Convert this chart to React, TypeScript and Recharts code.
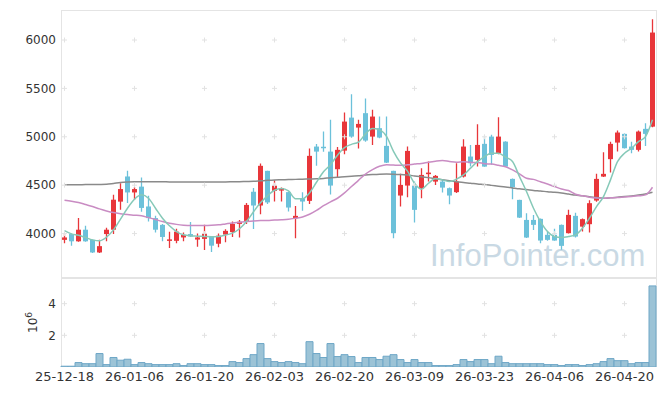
import React from 'react';
import { ComposedChart, Bar, Line, XAxis, YAxis, CartesianGrid, ReferenceDot } from 'recharts';

// trading days, 25-12-18 .. 26-04-24
const dates = [
  '25-12-18', '25-12-19', '25-12-22', '25-12-23', '25-12-24', '25-12-26', '25-12-29', '25-12-30',
  '26-01-02', '26-01-05', '26-01-06', '26-01-07', '26-01-08', '26-01-09', '26-01-12', '26-01-13',
  '26-01-14', '26-01-15', '26-01-16', '26-01-19', '26-01-20', '26-01-21', '26-01-22', '26-01-23',
  '26-01-26', '26-01-27', '26-01-28', '26-01-29', '26-01-30', '26-02-02', '26-02-03', '26-02-04',
  '26-02-05', '26-02-06', '26-02-09', '26-02-10', '26-02-11', '26-02-12', '26-02-13', '26-02-19',
  '26-02-20', '26-02-23', '26-02-24', '26-02-25', '26-02-26', '26-02-27', '26-03-03', '26-03-04',
  '26-03-05', '26-03-06', '26-03-09', '26-03-10', '26-03-11', '26-03-12', '26-03-13', '26-03-16',
  '26-03-17', '26-03-18', '26-03-19', '26-03-20', '26-03-23', '26-03-24', '26-03-25', '26-03-26',
  '26-03-27', '26-03-30', '26-03-31', '26-04-01', '26-04-02', '26-04-03', '26-04-06', '26-04-07',
  '26-04-08', '26-04-09', '26-04-10', '26-04-13', '26-04-14', '26-04-15', '26-04-16', '26-04-17',
  '26-04-20', '26-04-21', '26-04-22', '26-04-23', '26-04-24',
];

const opens = [
  3935, 3995, 3920, 4040, 3935, 3805, 3995, 4040, 4330, 4590,
  4425, 4485, 4280, 4160, 4090, 3925, 3925, 3960, 3995, 3938,
  3945, 3970, 3895, 3990, 4015, 4100, 4131, 4432, 4290, 4648,
  4441, 4444, 4428, 4160, 4363, 4338, 4899, 4897, 4847, 4665,
  4857, 5198, 5095, 5244, 5002, 5089, 4906, 4648, 4393, 4496,
  4496, 4469, 4614, 4537, 4537, 4469, 4428, 4589, 4796, 4761,
  4927, 5002, 4830, 4950, 4565, 4348, 4141, 4141, 4152, 3987,
  3987, 4090, 4004, 4183, 4072, 4097, 4341, 4589, 4769, 4940,
  5030, 4899, 4865, 5082, 5105,
];
const highs = [
  4000, 4000, 4160, 4080, 3940, 3935, 4060, 4400, 4520, 4650,
  4480, 4580, 4390, 4185, 4100, 4020, 4050, 4010, 4120, 4000,
  4090, 3975, 4000, 4045, 4125, 4140, 4315, 4470, 4725, 4650,
  4550, 4475, 4432, 4285, 4428, 4880, 4925, 5055, 5175, 4895,
  5250, 5440, 5175, 5395, 5280, 5209, 5209, 4650, 4617, 4899,
  4537, 4676, 4744, 4606, 4555, 4475, 4727, 4975, 4916, 5130,
  5010, 5020, 5202, 4955, 4570, 4350, 4211, 4193, 4155, 4020,
  4049, 4095, 4245, 4215, 4155, 4345, 4617, 4841, 4950, 5064,
  5035, 4950, 5065, 5140, 6215,
];
const lows = [
  3900, 3875, 3915, 3915, 3800, 3800, 3920, 3995, 4245, 4315,
  4350, 4225, 4125, 4010, 3920, 3850, 3900, 3920, 3965, 3865,
  3830, 3810, 3860, 3910, 3965, 3960, 4100, 4048, 4200, 4305,
  4331, 4331, 4227, 3952, 4236, 4305, 4700, 4845, 4405, 4575,
  4820, 4990, 4880, 4950, 4916, 4985, 4730, 3952, 4279, 4376,
  4114, 4366, 4537, 4503, 4424, 4304, 4420, 4580, 4692, 4692,
  4690, 4710, 4820, 4690, 4355, 4160, 3955, 4038, 3901, 3925,
  3925, 3832, 4000, 3960, 4021, 4010, 4330, 4585, 4630, 4847,
  4880, 4830, 4847, 4906, 5099,
];
const closes = [
  3960, 3920, 4040, 3920, 3805, 3870, 4040, 4350, 4460, 4425,
  4460, 4265, 4160, 4040, 3965, 3940, 4020, 3985, 3970, 3960,
  4005, 3875, 3978, 4028, 4100, 4122, 4296, 4290, 4700, 4322,
  4496, 4469, 4269, 4183, 4331, 4803, 4847, 4890, 4496, 4865,
  5157, 5002, 5133, 4961, 5209, 4992, 4733, 4004, 4503, 4854,
  4245, 4606, 4630, 4596, 4475, 4393, 4537, 4899, 4727, 4916,
  4692, 4813, 5002, 4692, 4479, 4165, 3959, 4090, 3928, 3935,
  3928, 3873, 4193, 3969, 4149, 4314, 4565, 4617, 4927, 5044,
  4882, 4865, 5054, 5030, 6077,
];

// moving averages as drawn
const ma5 = [
  4031, 3997, 3983, 3959, 3935, 3925, 3963, 4038, 4149, 4262,
  4355, 4400, 4365, 4262, 4159, 4080, 4021, 3987, 3976, 3973,
  3970, 3968, 3970, 3985, 4004, 4050, 4124, 4225, 4318, 4390,
  4448, 4465, 4440, 4360, 4360, 4420, 4530, 4638, 4712, 4810,
  4888, 4922, 4945, 5030, 5085, 5071, 5005, 4850, 4730, 4645,
  4520, 4459, 4520, 4568, 4555, 4537, 4562, 4606, 4676, 4744,
  4796, 4830, 4830, 4790, 4744, 4589, 4434, 4262, 4124, 4021,
  3969, 3959, 3969, 3987, 4056, 4159, 4279, 4382, 4555, 4744,
  4830, 4882, 4950, 5002, 5175,
];
const ma20 = [
  4345, 4335, 4321, 4300, 4279, 4255, 4234, 4217, 4205, 4196,
  4190, 4183, 4165, 4145, 4124, 4107, 4095, 4087, 4083, 4083,
  4083, 4085, 4090, 4100, 4110, 4117, 4124, 4130, 4134, 4136,
  4140, 4143, 4148, 4159, 4172, 4200, 4240, 4288, 4328, 4365,
  4420, 4486, 4550, 4615, 4660, 4695, 4712, 4708, 4705, 4710,
  4718, 4725, 4738, 4748, 4754, 4745, 4738, 4742, 4735, 4735,
  4722, 4718, 4705, 4690, 4658, 4617, 4572, 4560, 4535, 4512,
  4486, 4460, 4445, 4407, 4390, 4376, 4368, 4365, 4370, 4372,
  4378, 4383, 4390, 4400, 4479,
];
const ma60 = [
  4503, 4504, 4505, 4506, 4507, 4508, 4510, 4518, 4527, 4532,
  4535, 4536, 4536, 4535, 4535, 4534, 4534, 4534, 4534, 4534,
  4534, 4534, 4534, 4534, 4535, 4536, 4538, 4540, 4545, 4550,
  4554, 4556, 4558, 4560, 4562, 4564, 4566, 4570, 4578, 4582,
  4588, 4592, 4598, 4605, 4610, 4614, 4616, 4614, 4610, 4604,
  4596, 4588, 4578, 4566, 4555, 4545, 4536, 4527, 4520, 4512,
  4506, 4498, 4490, 4482, 4472, 4462, 4455, 4446, 4440, 4432,
  4426, 4418, 4408, 4398, 4390, 4380, 4372, 4366, 4370, 4376,
  4382, 4389, 4398, 4410, 4428,
];

// volume, millions of shares
const volumes = [
  0.05, 0.05, 0.28, 0.21, 0.21, 0.85, 0.15, 0.6, 0.43, 0.49,
  0.15, 0.28, 0.21, 0.15, 0.15, 0.15, 0.21, 0.09, 0.21, 0.21,
  0.15, 0.15, 0.09, 0.09, 0.34, 0.28, 0.53, 0.78, 1.48, 0.53,
  0.34, 0.28, 0.34, 0.28, 0.21, 1.6, 0.85, 0.6, 1.48, 0.66,
  0.78, 0.66, 0.28, 0.6, 0.6, 0.47, 0.68, 0.78, 0.47, 0.28,
  0.47, 0.28, 0.28, 0.09, 0.09, 0.09, 0.15, 0.47, 0.34, 0.47,
  0.47, 0.21, 0.68, 0.28, 0.21, 0.21, 0.21, 0.21, 0.21, 0.15,
  0.15, 0.09, 0.15, 0.15, 0.09, 0.15, 0.21, 0.34, 0.53, 0.4,
  0.4, 0.21, 0.28, 0.28, 5.12,
];

const dateTicks = ['25-12-18', '26-01-06', '26-01-20', '26-02-03', '26-02-20', '26-03-09', '26-03-23', '26-04-06', '26-04-20'];
const priceTicks = [4000, 4500, 5000, 5500, 6000];
const volumeTicks = [2, 4];

const UP = '#e8363a';
const DOWN = '#6cc1da';
const FONT = 'DejaVu Sans, sans-serif';

const data = dates.map((d, i) => ({
  date: d,
  open: opens[i],
  high: highs[i],
  low: lows[i],
  close: closes[i],
  range: [lows[i], highs[i]],
  ma5: ma5[i],
  ma20: ma20[i],
  ma60: ma60[i],
  volume: volumes[i],
}));

const Candle = (props: any) => {
  const { x, y, width, height, payload } = props;
  if (x == null || y == null) return null;
  const { open, close, high, low } = payload;
  const top = Math.min(y, y + height);
  const bottom = Math.max(y, y + height);
  const span = high - low || 1;
  const py = (v: number) => top + ((high - v) / span) * (bottom - top);
  const color = close >= open ? UP : DOWN;
  const cx = x + width / 2;
  const b1 = py(Math.max(open, close));
  const b2 = py(Math.min(open, close));
  return (
    <g>
      <line x1={cx} x2={cx} y1={top} y2={bottom} stroke={color} strokeWidth={1.3} />
      <rect x={cx - 2.5} y={b1} width={5} height={Math.max(b2 - b1, 1.5)} fill={color} />
    </g>
  );
};

// faint "+" marks where the grid lines would cross
const Cross = (props: any) => {
  const { cx, cy } = props;
  if (cx == null || cy == null) return null;
  return <path d={`M${cx - 2.5},${cy}H${cx + 2.5}M${cx},${cy - 2.5}V${cy + 2.5}`} stroke="#e2e2e2" strokeWidth={1} fill="none" />;
};

const tickStyle = { fontSize: 12, fill: '#333', fontFamily: FONT };

const VolumeUnit = (props: any) => {
  const vb = props.viewBox || { x: 0, y: 0, width: 61, height: 89 };
  const cy = vb.y + vb.height / 2;
  return (
    <text transform={`translate(${vb.x + 37},${cy}) rotate(-90)`} textAnchor="middle" fontSize={12} fill="#333" fontFamily={FONT}>
      10<tspan dy={-5} fontSize={9}>6</tspan>
    </text>
  );
};

export default function App() {
  return (
    <div style={{ position: 'absolute', left: 0, top: 0, width: 665, height: 396, background: '#fff', fontFamily: FONT }}>
      <svg width={665} height={396} style={{ position: 'absolute', left: 0, top: 0 }}>
        <text x={430} y={266} fontSize={31} fill="#c9d9e4" fontFamily="Liberation Sans, sans-serif">InfoPointer.com</text>
      </svg>
      <div style={{ position: 'absolute', left: 0, top: 0 }}>
        <ComposedChart width={665} height={278} data={data} margin={{ top: 10, right: 9, bottom: 0, left: 0 }} barCategoryGap={0}>
          <CartesianGrid horizontalPoints={[10.5, 277.5]} verticalPoints={[61.5, 656.5]} stroke="#e4e4e4" />
          <XAxis dataKey="date" hide />
          <YAxis
            domain={[3541, 6310]}
            ticks={priceTicks}
            allowDataOverflow
            width={61}
            axisLine={false}
            tickLine={false}
            tickSize={0}
            tickMargin={5}
            tick={tickStyle}
          />
          {dateTicks.map((d) =>
            priceTicks.map((p) => (
              <ReferenceDot key={`${d}-${p}`} x={d} y={p} shape={Cross} />
            ))
          )}
          <Bar dataKey="range" shape={Candle} isAnimationActive={false} />
          <Line type="monotone" dataKey="ma60" stroke="#8a8a8a" strokeWidth={1.5} dot={false} isAnimationActive={false} />
          <Line type="monotone" dataKey="ma20" stroke="#c98cc3" strokeWidth={1.5} dot={false} isAnimationActive={false} />
          <Line type="monotone" dataKey="ma5" stroke="#86c9b8" strokeWidth={1.5} dot={false} isAnimationActive={false} />
        </ComposedChart>
      </div>
      <div style={{ position: 'absolute', left: 0, top: 278 }}>
        <ComposedChart width={665} height={118} data={data} margin={{ top: 0, right: 9, bottom: 0, left: 0 }} barCategoryGap={0}>
          <CartesianGrid horizontalPoints={[0.5]} verticalPoints={[61.5, 656.5]} stroke="#e4e4e4" />
          <XAxis
            dataKey="date"
            ticks={dateTicks}
            interval={0}
            height={29}
            axisLine={false}
            tickLine={false}
            tickSize={0}
            tickMargin={5}
            tick={{ ...tickStyle, fontSize: 13 }}
          />
          <YAxis
            domain={[0, 5.62]}
            ticks={volumeTicks}
            allowDataOverflow
            width={61}
            axisLine={false}
            tickLine={false}
            tickSize={0}
            tickMargin={5}
            tick={tickStyle}
            label={{ content: VolumeUnit }}
          />
          {dateTicks.map((d) =>
            volumeTicks.map((v) => (
              <ReferenceDot key={`${d}-${v}`} x={d} y={v} shape={Cross} />
            ))
          )}
          <Bar dataKey="volume" fill="#9cc3d6" stroke="#6ea7c7" strokeWidth={1} isAnimationActive={false} />
        </ComposedChart>
      </div>
    </div>
  );
}
